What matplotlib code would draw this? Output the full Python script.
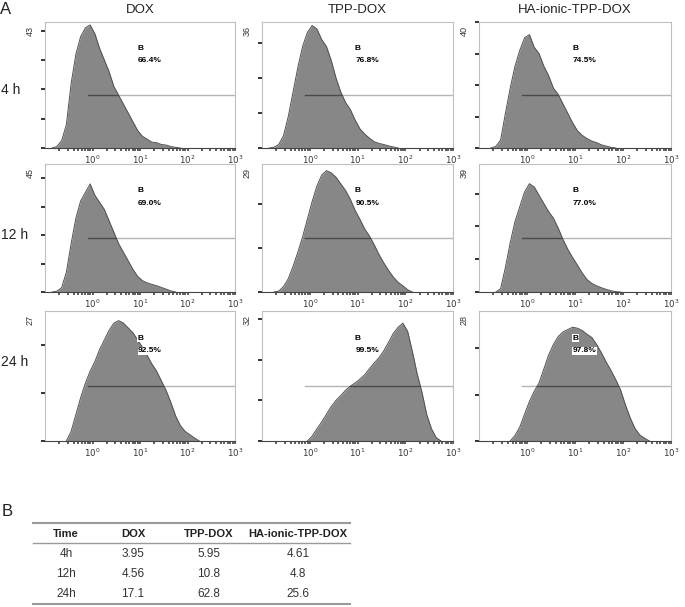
import numpy as np
import matplotlib
matplotlib.use("Agg")
import matplotlib.pyplot as plt
from matplotlib.ticker import LogLocator, MultipleLocator, NullFormatter, FixedLocator, FixedFormatter

plt.rcParams['font.family'] = ['Liberation Sans', 'DejaVu Sans']

# ---- data ----
groups = ["DOX", "TPP-DOX", "HA-ionic-TPP-DOX"]
times = ["4 h", "12 h", "24 h"]

# y-axis maximum shown on each panel (rows = time, cols = group)
ymax = [[43, 36, 40],
        [45, 29, 39],
        [27, 32, 28]]

gated = [["66.4%", "76.8%", "74.5%"],
         ["69.0%", "90.5%", "77.0%"],
         ["92.5%", "99.5%", "97.8%"]]

# log10 of the first bin centre, bins are 0.1 decade wide
first_bin = [[-0.85, -0.85, -0.75],
             [-0.85, -0.75, -0.65],
             [-0.55, -0.05, -0.35]]

dox_4h = [0, 0.5, 2.5, 8, 22, 32, 38, 41, 42, 39, 34, 30, 26, 21, 18, 15, 12, 9, 6, 4, 3, 2,
          1.8, 1.2, 1, 0.5, 0.2, 0]
tpp_4h = [0, 0.2, 1, 3.5, 9, 16, 23, 29, 33, 35, 34, 31, 29, 25, 20, 16, 13, 11, 8, 5.5, 4,
          2.8, 1.8, 1.3, 1, 0.6, 0.3, 0]
ha_4h = [0, 0.5, 2.5, 11, 19, 26, 31, 35, 36, 32, 30, 26, 23, 19, 17, 14, 11, 8, 5.5, 4, 3,
         2.2, 1.7, 1, 0.6, 0.2, 0]
dox_12h = [0, 0.3, 1.5, 7, 17, 26, 32, 35, 38, 34, 31.5, 29, 25, 21, 17, 14, 11, 8, 5.5, 4,
           3.2, 2.7, 2.2, 1.6, 1, 0.4, 0]
tpp_12h = [0, 0.2, 1.2, 3, 5.8, 9, 12.5, 16.5, 20.5, 24, 26.5, 27.5, 27, 26, 24.5, 23, 21,
           18.5, 16.5, 14.3, 12.7, 10.7, 8.5, 6.6, 4.9, 3.4, 2.2, 1.4, 0.5, 0]
ha_12h = [0, 1, 7.5, 15, 21.5, 26, 30.5, 33, 32, 29.5, 27, 24.5, 22.5, 19.5, 16, 13, 10.5,
          8.2, 5.8, 3.8, 2.6, 1.9, 1.3, 0.8, 0.4, 0.1, 0]
dox_24h = [0, 2, 5.5, 9, 12, 14.5, 16.5, 19, 21, 23, 24.5, 25, 24.5, 23.5, 22.5, 21, 19.5,
           17.8, 16, 14.5, 12.5, 10.5, 8, 5.2, 3.2, 2, 1.3, 0.6, 0]
tpp_24h = [0, 1.2, 3, 4.7, 6.6, 8.5, 10, 11.2, 12.5, 13.5, 14.3, 15.2, 16.3, 17.8, 19.2,
           20.5, 22.2, 24.3, 26.5, 28, 29, 27, 22, 16.5, 12, 6.5, 3, 0.8, 0]
ha_24h = [0, 1.2, 3, 5.8, 8.5, 10.7, 12.5, 15.5, 18.5, 20.8, 22.5, 23.5, 24, 24.5, 24.3,
          23.8, 23, 22.3, 20.8, 19, 17, 15.2, 13.2, 11, 7.8, 5, 2.7, 1.3, 0.6, 0]

counts = [[dox_4h, tpp_4h, ha_4h],
          [dox_12h, tpp_12h, ha_12h],
          [dox_24h, tpp_24h, ha_24h]]

# table (panel B)
table_header = ["Time", "DOX", "TPP-DOX", "HA-ionic-TPP-DOX"]
table_time = ["4h", "12h", "24h"]
table_dox = ["3.95", "4.56", "17.1"]
table_tpp = ["5.95", "10.8", "62.8"]
table_ha = ["4.61", "4.8", "25.6"]

gate_start = 0.8
gate_frac = 0.42

# ---- layout (pixels) ----
W, H = 685, 607
col_l = [45, 262, 479]
col_w = [190, 191, 192]
row_t = [22, 164, 311]
row_b = [148, 292, 441]

fig = plt.figure(figsize=(W / 100, H / 100), dpi=100)

fill_col = '#878787'
for r in range(3):
    for c in range(3):
        ax = fig.add_axes([col_l[c] / W, 1 - row_b[r] / H, col_w[c] / W,
                           (row_b[r] - row_t[r]) / H])
        y = np.array(counts[r][c], dtype=float)
        x = 10 ** (first_bin[r][c] + 0.1 * np.arange(len(y)))
        poly = ax.fill_between(x, y, 0, color=fill_col, lw=0, zorder=2)
        ax.plot(x, y, color='#505050', lw=0.7, zorder=3)

        gy = gate_frac * ymax[r][c]
        ax.plot([gate_start, 1000], [gy, gy], color='#b5b5b5', lw=1.0, zorder=1)
        dark, = ax.plot([gate_start, 1000], [gy, gy], color='#4a4a4a', lw=1.0, zorder=4)
        dark.set_clip_path(poly.get_paths()[0], ax.transData)

        ax.set_xscale('log')
        ax.set_xlim(0.1, 1000)
        ax.set_ylim(0, ymax[r][c])

        ax.xaxis.set_major_locator(FixedLocator([1, 10, 100, 1000]))
        ax.xaxis.set_major_formatter(FixedFormatter([r'$10^{0}$', r'$10^{1}$',
                                                     r'$10^{2}$', r'$10^{3}$']))
        ax.xaxis.set_minor_locator(LogLocator(base=10, subs=np.arange(2, 10)))
        ax.xaxis.set_minor_formatter(NullFormatter())
        ax.tick_params(axis='x', which='both', direction='out', length=2.5, width=1.1,
                       color='#333333', labelsize=6.2, labelcolor='#333333', pad=1.5)
        ax.yaxis.set_major_locator(MultipleLocator(10))
        ax.set_yticklabels([])
        ax.tick_params(axis='y', which='both', direction='out', length=3, width=1.4,
                       color='#333333')
        ax.tick_params(axis='y', which='minor', length=0)

        for side in ['top', 'right', 'left']:
            ax.spines[side].set_color('#c0c0c0')
            ax.spines[side].set_linewidth(0.8)
        ax.spines['bottom'].set_color('#444444')
        ax.spines['bottom'].set_linewidth(0.8)

        ax.text(-0.055, 0.97, str(ymax[r][c]), transform=ax.transAxes, rotation=90,
                ha='right', va='top', fontsize=6.5, color='#333333')
        ax.text(0.485, 0.79, "B", transform=ax.transAxes, ha='left', va='center',
                fontsize=6, fontweight='bold', zorder=6,
                bbox=dict(facecolor='white', edgecolor='none', pad=0.4))
        ax.text(0.49, 0.695, gated[r][c], transform=ax.transAxes, ha='left', va='center',
                fontsize=6, fontweight='bold', zorder=6,
                bbox=dict(facecolor='white', edgecolor='none', pad=0.4))

# column titles and row labels
for c in range(3):
    fig.text((col_l[c] + col_w[c] / 2) / W, 1 - 10 / H, groups[c], ha='center',
             va='center', fontsize=9.5, color='#222222')
row_y = [90, 235, 362]
for r in range(3):
    fig.text(1 / W, 1 - row_y[r] / H, times[r], ha='left', va='center', fontsize=10,
             color='#222222')

fig.text(0 / W, 1 - 9 / H, "A", ha='left', va='center', fontsize=12, color='#222222')
fig.text(2 / W, 1 - 511 / H, "B", ha='left', va='center', fontsize=12, color='#222222')

# ---- table ----
tx = [66, 133, 209, 298]
fig.add_artist(plt.Line2D([33 / W, 350 / W], [1 - 523 / H] * 2, color='#9a9a9a', lw=1.5))
fig.add_artist(plt.Line2D([33 / W, 350 / W], [1 - 543 / H] * 2, color='#9a9a9a', lw=1.0))
fig.add_artist(plt.Line2D([33 / W, 350 / W], [1 - 604 / H] * 2, color='#9a9a9a', lw=1.5))
for j, h in enumerate(table_header):
    fig.text(tx[j] / W, 1 - 534 / H, h, ha='center', va='center', fontsize=8,
             fontweight='bold', color='#222222')
columns = [table_time, table_dox, table_tpp, table_ha]
row_ty = [554, 574, 594]
for j, col in enumerate(columns):
    for i, v in enumerate(col):
        fig.text(tx[j] / W, 1 - row_ty[i] / H, v, ha='center', va='center', fontsize=8.5,
                 color='#333333')

fig.savefig("out.png", dpi=100)
